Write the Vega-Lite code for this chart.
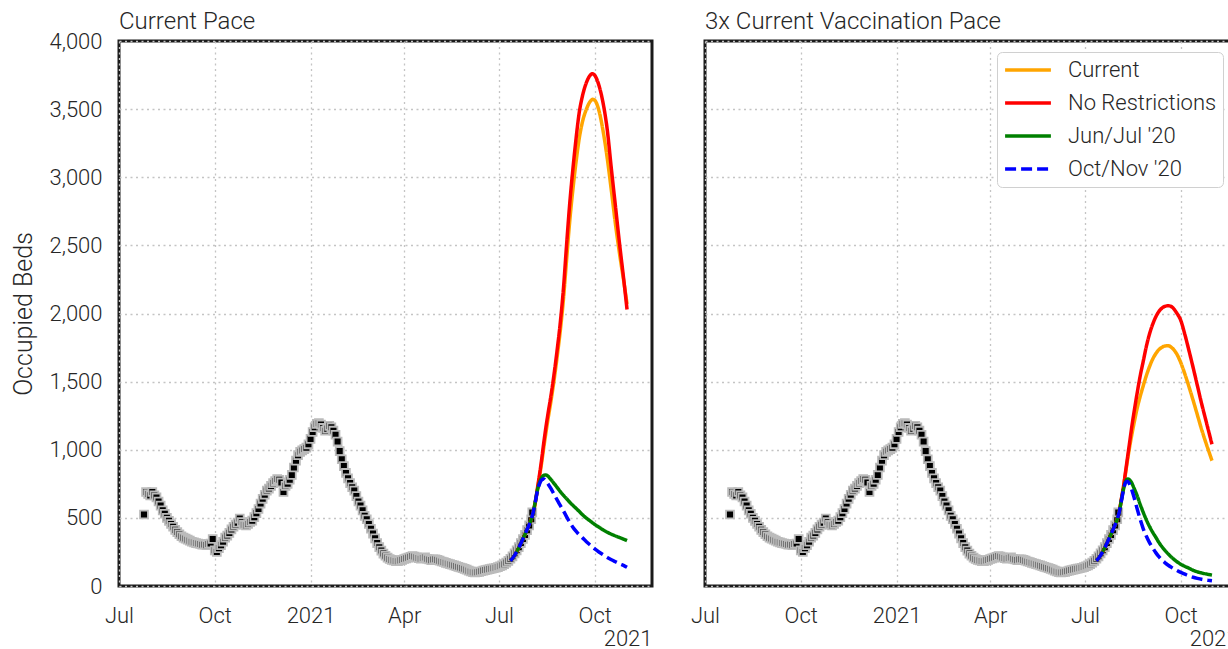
{
  "$schema": "https://vega.github.io/schema/vega-lite/v6.json",
  "background": "white",
  "padding": {"left": 10, "top": 8, "right": -10, "bottom": -3},
  "config": {
    "font": "Roboto",
    "view": {"stroke": "#1a1a1a", "strokeWidth": 3},
    "axis": {
      "labelFont": "Roboto", "labelFontSize": 22, "labelFontWeight": 300, "labelColor": "#262626",
      "titleFont": "Roboto", "titleFontSize": 22, "titleFontWeight": 300, "titleColor": "#262626",
      "ticks": false, "domain": false, "grid": true,
      "gridColor": "#c4c4c4", "gridDash": [2, 3.5], "gridWidth": 1.3
    },
    "title": {"font": "Roboto", "fontSize": 24, "fontWeight": 300, "color": "#262626", "anchor": "start", "baseline": "alphabetic", "frame": "group"},
    "legend": {
      "title": null, "orient": "none", "legendX": 292, "legendY": 11,
      "symbolType": "stroke", "symbolSize": 2100, "symbolStrokeWidth": 3.5,
      "labelFont": "Roboto", "labelFontSize": 22, "labelFontWeight": 300, "labelColor": "#262626",
      "labelOffset": 15, "labelLimit": 300, "rowPadding": 9, "clipHeight": 24, "padding": 6,
      "strokeColor": "#d0d0d0", "cornerRadius": 5, "fillColor": "white"
    },
    "concat": {"spacing": 34}
  },
  "datasets": {
    "obs": [
      {"t":"2020-07-25","v":525},{"t":"2020-07-27","v":690},{"t":"2020-07-29","v":675},{"t":"2020-07-31","v":665},
      {"t":"2020-08-02","v":690},{"t":"2020-08-04","v":665},{"t":"2020-08-06","v":650},{"t":"2020-08-08","v":620},
      {"t":"2020-08-10","v":590},{"t":"2020-08-12","v":555},{"t":"2020-08-14","v":530},{"t":"2020-08-16","v":500},
      {"t":"2020-08-18","v":478},{"t":"2020-08-20","v":455},{"t":"2020-08-22","v":435},{"t":"2020-08-24","v":412},
      {"t":"2020-08-26","v":396},{"t":"2020-08-28","v":380},{"t":"2020-08-30","v":365},{"t":"2020-09-01","v":355},
      {"t":"2020-09-03","v":348},{"t":"2020-09-05","v":340},{"t":"2020-09-07","v":333},{"t":"2020-09-09","v":325},
      {"t":"2020-09-11","v":320},{"t":"2020-09-13","v":315},{"t":"2020-09-15","v":312},{"t":"2020-09-17","v":308},
      {"t":"2020-09-19","v":303},{"t":"2020-09-21","v":305},{"t":"2020-09-23","v":300},{"t":"2020-09-25","v":308},
      {"t":"2020-09-27","v":312},{"t":"2020-09-29","v":345},{"t":"2020-10-01","v":262},{"t":"2020-10-03","v":250},
      {"t":"2020-10-05","v":278},{"t":"2020-10-07","v":300},{"t":"2020-10-09","v":325},{"t":"2020-10-11","v":355},
      {"t":"2020-10-13","v":370},{"t":"2020-10-15","v":390},{"t":"2020-10-17","v":415},{"t":"2020-10-19","v":435},
      {"t":"2020-10-21","v":450},{"t":"2020-10-23","v":465},{"t":"2020-10-25","v":495},{"t":"2020-10-27","v":470},
      {"t":"2020-10-29","v":450},{"t":"2020-10-31","v":445},{"t":"2020-11-02","v":455},{"t":"2020-11-04","v":470},
      {"t":"2020-11-06","v":480},{"t":"2020-11-08","v":505},{"t":"2020-11-10","v":535},{"t":"2020-11-12","v":565},
      {"t":"2020-11-14","v":605},{"t":"2020-11-16","v":640},{"t":"2020-11-18","v":670},{"t":"2020-11-20","v":700},
      {"t":"2020-11-22","v":715},{"t":"2020-11-24","v":735},{"t":"2020-11-26","v":755},{"t":"2020-11-28","v":770},
      {"t":"2020-11-30","v":785},{"t":"2020-12-02","v":780},{"t":"2020-12-04","v":760},{"t":"2020-12-06","v":690},
      {"t":"2020-12-08","v":735},{"t":"2020-12-10","v":750},{"t":"2020-12-12","v":780},{"t":"2020-12-14","v":815},
      {"t":"2020-12-16","v":870},{"t":"2020-12-18","v":920},{"t":"2020-12-20","v":960},{"t":"2020-12-22","v":985},
      {"t":"2020-12-24","v":995},{"t":"2020-12-26","v":1005},{"t":"2020-12-28","v":1015},{"t":"2020-12-30","v":1040},
      {"t":"2021-01-01","v":1080},{"t":"2021-01-03","v":1130},{"t":"2021-01-05","v":1165},{"t":"2021-01-07","v":1190},
      {"t":"2021-01-09","v":1195},{"t":"2021-01-11","v":1185},{"t":"2021-01-13","v":1160},{"t":"2021-01-15","v":1140},
      {"t":"2021-01-17","v":1155},{"t":"2021-01-19","v":1175},{"t":"2021-01-21","v":1165},{"t":"2021-01-23","v":1140},
      {"t":"2021-01-25","v":1110},{"t":"2021-01-27","v":1060},{"t":"2021-01-29","v":990},{"t":"2021-01-31","v":930},
      {"t":"2021-02-02","v":880},{"t":"2021-02-04","v":830},{"t":"2021-02-06","v":790},{"t":"2021-02-08","v":755},
      {"t":"2021-02-10","v":725},{"t":"2021-02-12","v":700},{"t":"2021-02-14","v":660},{"t":"2021-02-16","v":620},
      {"t":"2021-02-18","v":590},{"t":"2021-02-20","v":555},{"t":"2021-02-22","v":515},{"t":"2021-02-24","v":490},
      {"t":"2021-02-26","v":455},{"t":"2021-02-28","v":420},{"t":"2021-03-02","v":385},{"t":"2021-03-04","v":350},
      {"t":"2021-03-06","v":315},{"t":"2021-03-08","v":285},{"t":"2021-03-10","v":260},{"t":"2021-03-12","v":238},
      {"t":"2021-03-14","v":222},{"t":"2021-03-16","v":208},{"t":"2021-03-18","v":198},{"t":"2021-03-20","v":192},
      {"t":"2021-03-22","v":188},{"t":"2021-03-24","v":183},{"t":"2021-03-26","v":182},{"t":"2021-03-28","v":188},
      {"t":"2021-03-30","v":192},{"t":"2021-04-01","v":198},{"t":"2021-04-03","v":203},{"t":"2021-04-05","v":208},
      {"t":"2021-04-07","v":214},{"t":"2021-04-09","v":220},{"t":"2021-04-11","v":216},{"t":"2021-04-13","v":210},
      {"t":"2021-04-15","v":205},{"t":"2021-04-17","v":200},{"t":"2021-04-19","v":205},{"t":"2021-04-21","v":210},
      {"t":"2021-04-23","v":200},{"t":"2021-04-25","v":195},{"t":"2021-04-27","v":190},{"t":"2021-04-29","v":195},
      {"t":"2021-05-01","v":196},{"t":"2021-05-03","v":192},{"t":"2021-05-05","v":186},{"t":"2021-05-07","v":180},
      {"t":"2021-05-09","v":176},{"t":"2021-05-11","v":170},{"t":"2021-05-13","v":165},{"t":"2021-05-15","v":160},
      {"t":"2021-05-17","v":156},{"t":"2021-05-19","v":151},{"t":"2021-05-21","v":146},{"t":"2021-05-23","v":141},
      {"t":"2021-05-25","v":136},{"t":"2021-05-27","v":131},{"t":"2021-05-29","v":126},{"t":"2021-05-31","v":120},
      {"t":"2021-06-02","v":113},{"t":"2021-06-04","v":107},{"t":"2021-06-06","v":101},{"t":"2021-06-08","v":99},
      {"t":"2021-06-10","v":101},{"t":"2021-06-12","v":104},{"t":"2021-06-14","v":108},{"t":"2021-06-16","v":113},
      {"t":"2021-06-18","v":117},{"t":"2021-06-20","v":120},{"t":"2021-06-22","v":124},{"t":"2021-06-24","v":127},
      {"t":"2021-06-26","v":130},{"t":"2021-06-28","v":134},{"t":"2021-06-30","v":139},{"t":"2021-07-02","v":145},
      {"t":"2021-07-04","v":152},{"t":"2021-07-06","v":160},{"t":"2021-07-08","v":172},{"t":"2021-07-10","v":185},
      {"t":"2021-07-12","v":200},{"t":"2021-07-14","v":218},{"t":"2021-07-16","v":240},{"t":"2021-07-18","v":262},
      {"t":"2021-07-20","v":285},{"t":"2021-07-22","v":315},{"t":"2021-07-24","v":345},{"t":"2021-07-26","v":375},
      {"t":"2021-07-28","v":410},{"t":"2021-07-30","v":445},{"t":"2021-08-01","v":490},{"t":"2021-08-02","v":540}
    ],
    "lines": [
      {"p":"L","s":"Current","t":"2021-07-12","v":185},{"p":"L","s":"Current","t":"2021-07-16","v":225},{"p":"L","s":"Current","t":"2021-07-20","v":280},{"p":"L","s":"Current","t":"2021-07-24","v":345},{"p":"L","s":"Current","t":"2021-07-28","v":415},{"p":"L","s":"Current","t":"2021-08-01","v":490},{"p":"L","s":"Current","t":"2021-08-03","v":545},
      {"p":"L","s":"Current","t":"2021-08-05","v":615},{"p":"L","s":"Current","t":"2021-08-07","v":710},{"p":"L","s":"Current","t":"2021-08-09","v":805},{"p":"L","s":"Current","t":"2021-08-11","v":905},{"p":"L","s":"Current","t":"2021-08-13","v":1015},{"p":"L","s":"Current","t":"2021-08-15","v":1120},{"p":"L","s":"Current","t":"2021-08-17","v":1220},{"p":"L","s":"Current","t":"2021-08-20","v":1360},{"p":"L","s":"Current","t":"2021-08-23","v":1515},{"p":"L","s":"Current","t":"2021-08-26","v":1690},{"p":"L","s":"Current","t":"2021-08-29","v":1880},{"p":"L","s":"Current","t":"2021-09-01","v":2110},{"p":"L","s":"Current","t":"2021-09-04","v":2400},{"p":"L","s":"Current","t":"2021-09-07","v":2680},{"p":"L","s":"Current","t":"2021-09-10","v":2910},{"p":"L","s":"Current","t":"2021-09-13","v":3110},{"p":"L","s":"Current","t":"2021-09-16","v":3280},{"p":"L","s":"Current","t":"2021-09-19","v":3400},{"p":"L","s":"Current","t":"2021-09-23","v":3500},{"p":"L","s":"Current","t":"2021-09-27","v":3560},{"p":"L","s":"Current","t":"2021-09-29","v":3572},{"p":"L","s":"Current","t":"2021-10-01","v":3565},{"p":"L","s":"Current","t":"2021-10-05","v":3490},{"p":"L","s":"Current","t":"2021-10-09","v":3340},{"p":"L","s":"Current","t":"2021-10-13","v":3140},{"p":"L","s":"Current","t":"2021-10-17","v":2900},{"p":"L","s":"Current","t":"2021-10-21","v":2650},{"p":"L","s":"Current","t":"2021-10-25","v":2430},{"p":"L","s":"Current","t":"2021-10-29","v":2230},{"p":"L","s":"Current","t":"2021-11-01","v":2070},

      {"p":"L","s":"No Restrictions","t":"2021-07-12","v":185},{"p":"L","s":"No Restrictions","t":"2021-07-16","v":225},{"p":"L","s":"No Restrictions","t":"2021-07-20","v":280},{"p":"L","s":"No Restrictions","t":"2021-07-24","v":345},{"p":"L","s":"No Restrictions","t":"2021-07-28","v":415},{"p":"L","s":"No Restrictions","t":"2021-08-01","v":490},{"p":"L","s":"No Restrictions","t":"2021-08-03","v":545},
      {"p":"L","s":"No Restrictions","t":"2021-08-05","v":620},{"p":"L","s":"No Restrictions","t":"2021-08-07","v":720},{"p":"L","s":"No Restrictions","t":"2021-08-09","v":820},{"p":"L","s":"No Restrictions","t":"2021-08-11","v":930},{"p":"L","s":"No Restrictions","t":"2021-08-13","v":1050},{"p":"L","s":"No Restrictions","t":"2021-08-15","v":1160},{"p":"L","s":"No Restrictions","t":"2021-08-17","v":1260},{"p":"L","s":"No Restrictions","t":"2021-08-20","v":1400},{"p":"L","s":"No Restrictions","t":"2021-08-23","v":1560},{"p":"L","s":"No Restrictions","t":"2021-08-26","v":1740},{"p":"L","s":"No Restrictions","t":"2021-08-29","v":1940},{"p":"L","s":"No Restrictions","t":"2021-09-01","v":2190},{"p":"L","s":"No Restrictions","t":"2021-09-04","v":2510},{"p":"L","s":"No Restrictions","t":"2021-09-07","v":2810},{"p":"L","s":"No Restrictions","t":"2021-09-10","v":3060},{"p":"L","s":"No Restrictions","t":"2021-09-13","v":3280},{"p":"L","s":"No Restrictions","t":"2021-09-16","v":3470},{"p":"L","s":"No Restrictions","t":"2021-09-19","v":3590},{"p":"L","s":"No Restrictions","t":"2021-09-23","v":3695},{"p":"L","s":"No Restrictions","t":"2021-09-27","v":3752},{"p":"L","s":"No Restrictions","t":"2021-09-29","v":3760},{"p":"L","s":"No Restrictions","t":"2021-10-01","v":3748},{"p":"L","s":"No Restrictions","t":"2021-10-05","v":3675},{"p":"L","s":"No Restrictions","t":"2021-10-09","v":3545},{"p":"L","s":"No Restrictions","t":"2021-10-13","v":3350},{"p":"L","s":"No Restrictions","t":"2021-10-17","v":3060},{"p":"L","s":"No Restrictions","t":"2021-10-21","v":2780},{"p":"L","s":"No Restrictions","t":"2021-10-25","v":2500},{"p":"L","s":"No Restrictions","t":"2021-10-29","v":2240},{"p":"L","s":"No Restrictions","t":"2021-11-01","v":2030},

      {"p":"L","s":"Jun/Jul '20","t":"2021-07-12","v":185},{"p":"L","s":"Jun/Jul '20","t":"2021-07-16","v":225},{"p":"L","s":"Jun/Jul '20","t":"2021-07-20","v":280},{"p":"L","s":"Jun/Jul '20","t":"2021-07-24","v":345},{"p":"L","s":"Jun/Jul '20","t":"2021-07-28","v":415},{"p":"L","s":"Jun/Jul '20","t":"2021-08-01","v":490},{"p":"L","s":"Jun/Jul '20","t":"2021-08-03","v":545},
      {"p":"L","s":"Jun/Jul '20","t":"2021-08-05","v":625},{"p":"L","s":"Jun/Jul '20","t":"2021-08-07","v":705},{"p":"L","s":"Jun/Jul '20","t":"2021-08-09","v":760},{"p":"L","s":"Jun/Jul '20","t":"2021-08-11","v":795},{"p":"L","s":"Jun/Jul '20","t":"2021-08-13","v":812},{"p":"L","s":"Jun/Jul '20","t":"2021-08-15","v":815},{"p":"L","s":"Jun/Jul '20","t":"2021-08-17","v":806},{"p":"L","s":"Jun/Jul '20","t":"2021-08-20","v":780},{"p":"L","s":"Jun/Jul '20","t":"2021-08-23","v":752},{"p":"L","s":"Jun/Jul '20","t":"2021-08-26","v":722},{"p":"L","s":"Jun/Jul '20","t":"2021-08-29","v":692},{"p":"L","s":"Jun/Jul '20","t":"2021-09-01","v":665},{"p":"L","s":"Jun/Jul '20","t":"2021-09-04","v":640},{"p":"L","s":"Jun/Jul '20","t":"2021-09-07","v":615},{"p":"L","s":"Jun/Jul '20","t":"2021-09-10","v":592},{"p":"L","s":"Jun/Jul '20","t":"2021-09-13","v":570},{"p":"L","s":"Jun/Jul '20","t":"2021-09-16","v":548},{"p":"L","s":"Jun/Jul '20","t":"2021-09-19","v":525},{"p":"L","s":"Jun/Jul '20","t":"2021-09-23","v":498},{"p":"L","s":"Jun/Jul '20","t":"2021-09-27","v":475},{"p":"L","s":"Jun/Jul '20","t":"2021-10-01","v":452},{"p":"L","s":"Jun/Jul '20","t":"2021-10-05","v":432},{"p":"L","s":"Jun/Jul '20","t":"2021-10-09","v":412},{"p":"L","s":"Jun/Jul '20","t":"2021-10-13","v":395},{"p":"L","s":"Jun/Jul '20","t":"2021-10-17","v":380},{"p":"L","s":"Jun/Jul '20","t":"2021-10-21","v":367},{"p":"L","s":"Jun/Jul '20","t":"2021-10-25","v":355},{"p":"L","s":"Jun/Jul '20","t":"2021-10-29","v":343},{"p":"L","s":"Jun/Jul '20","t":"2021-11-01","v":333},

      {"p":"L","s":"Oct/Nov '20","t":"2021-07-12","v":185},{"p":"L","s":"Oct/Nov '20","t":"2021-07-16","v":225},{"p":"L","s":"Oct/Nov '20","t":"2021-07-20","v":280},{"p":"L","s":"Oct/Nov '20","t":"2021-07-24","v":345},{"p":"L","s":"Oct/Nov '20","t":"2021-07-28","v":415},{"p":"L","s":"Oct/Nov '20","t":"2021-08-01","v":490},{"p":"L","s":"Oct/Nov '20","t":"2021-08-03","v":545},
      {"p":"L","s":"Oct/Nov '20","t":"2021-08-05","v":620},{"p":"L","s":"Oct/Nov '20","t":"2021-08-07","v":700},{"p":"L","s":"Oct/Nov '20","t":"2021-08-09","v":750},{"p":"L","s":"Oct/Nov '20","t":"2021-08-11","v":778},{"p":"L","s":"Oct/Nov '20","t":"2021-08-13","v":785},{"p":"L","s":"Oct/Nov '20","t":"2021-08-15","v":772},{"p":"L","s":"Oct/Nov '20","t":"2021-08-17","v":750},{"p":"L","s":"Oct/Nov '20","t":"2021-08-20","v":715},{"p":"L","s":"Oct/Nov '20","t":"2021-08-23","v":672},{"p":"L","s":"Oct/Nov '20","t":"2021-08-26","v":630},{"p":"L","s":"Oct/Nov '20","t":"2021-08-29","v":590},{"p":"L","s":"Oct/Nov '20","t":"2021-09-01","v":550},{"p":"L","s":"Oct/Nov '20","t":"2021-09-04","v":508},{"p":"L","s":"Oct/Nov '20","t":"2021-09-07","v":468},{"p":"L","s":"Oct/Nov '20","t":"2021-09-10","v":432},{"p":"L","s":"Oct/Nov '20","t":"2021-09-13","v":402},{"p":"L","s":"Oct/Nov '20","t":"2021-09-16","v":376},{"p":"L","s":"Oct/Nov '20","t":"2021-09-19","v":355},{"p":"L","s":"Oct/Nov '20","t":"2021-09-23","v":325},{"p":"L","s":"Oct/Nov '20","t":"2021-09-27","v":298},{"p":"L","s":"Oct/Nov '20","t":"2021-10-01","v":272},{"p":"L","s":"Oct/Nov '20","t":"2021-10-05","v":250},{"p":"L","s":"Oct/Nov '20","t":"2021-10-09","v":230},{"p":"L","s":"Oct/Nov '20","t":"2021-10-13","v":210},{"p":"L","s":"Oct/Nov '20","t":"2021-10-17","v":193},{"p":"L","s":"Oct/Nov '20","t":"2021-10-21","v":178},{"p":"L","s":"Oct/Nov '20","t":"2021-10-25","v":163},{"p":"L","s":"Oct/Nov '20","t":"2021-10-29","v":150},{"p":"L","s":"Oct/Nov '20","t":"2021-11-01","v":138},

      {"p":"R","s":"Current","t":"2021-07-12","v":185},{"p":"R","s":"Current","t":"2021-07-16","v":225},{"p":"R","s":"Current","t":"2021-07-20","v":280},{"p":"R","s":"Current","t":"2021-07-24","v":345},{"p":"R","s":"Current","t":"2021-07-28","v":415},{"p":"R","s":"Current","t":"2021-08-01","v":490},{"p":"R","s":"Current","t":"2021-08-03","v":545},
      {"p":"R","s":"Current","t":"2021-08-05","v":635},{"p":"R","s":"Current","t":"2021-08-07","v":725},{"p":"R","s":"Current","t":"2021-08-09","v":830},{"p":"R","s":"Current","t":"2021-08-11","v":930},{"p":"R","s":"Current","t":"2021-08-13","v":1025},{"p":"R","s":"Current","t":"2021-08-15","v":1110},{"p":"R","s":"Current","t":"2021-08-17","v":1190},{"p":"R","s":"Current","t":"2021-08-20","v":1300},{"p":"R","s":"Current","t":"2021-08-23","v":1390},{"p":"R","s":"Current","t":"2021-08-26","v":1470},{"p":"R","s":"Current","t":"2021-08-29","v":1545},{"p":"R","s":"Current","t":"2021-09-01","v":1610},{"p":"R","s":"Current","t":"2021-09-04","v":1665},{"p":"R","s":"Current","t":"2021-09-07","v":1705},{"p":"R","s":"Current","t":"2021-09-10","v":1735},{"p":"R","s":"Current","t":"2021-09-13","v":1752},{"p":"R","s":"Current","t":"2021-09-16","v":1762},{"p":"R","s":"Current","t":"2021-09-19","v":1763},{"p":"R","s":"Current","t":"2021-09-23","v":1745},{"p":"R","s":"Current","t":"2021-09-27","v":1705},{"p":"R","s":"Current","t":"2021-10-01","v":1640},{"p":"R","s":"Current","t":"2021-10-05","v":1555},{"p":"R","s":"Current","t":"2021-10-09","v":1460},{"p":"R","s":"Current","t":"2021-10-13","v":1360},{"p":"R","s":"Current","t":"2021-10-17","v":1255},{"p":"R","s":"Current","t":"2021-10-21","v":1150},{"p":"R","s":"Current","t":"2021-10-25","v":1055},{"p":"R","s":"Current","t":"2021-10-29","v":965},{"p":"R","s":"Current","t":"2021-10-31","v":920},

      {"p":"R","s":"No Restrictions","t":"2021-07-12","v":185},{"p":"R","s":"No Restrictions","t":"2021-07-16","v":225},{"p":"R","s":"No Restrictions","t":"2021-07-20","v":280},{"p":"R","s":"No Restrictions","t":"2021-07-24","v":345},{"p":"R","s":"No Restrictions","t":"2021-07-28","v":415},{"p":"R","s":"No Restrictions","t":"2021-08-01","v":490},{"p":"R","s":"No Restrictions","t":"2021-08-03","v":545},
      {"p":"R","s":"No Restrictions","t":"2021-08-05","v":640},{"p":"R","s":"No Restrictions","t":"2021-08-07","v":730},{"p":"R","s":"No Restrictions","t":"2021-08-09","v":840},{"p":"R","s":"No Restrictions","t":"2021-08-11","v":950},{"p":"R","s":"No Restrictions","t":"2021-08-13","v":1060},{"p":"R","s":"No Restrictions","t":"2021-08-15","v":1170},{"p":"R","s":"No Restrictions","t":"2021-08-17","v":1270},{"p":"R","s":"No Restrictions","t":"2021-08-20","v":1410},{"p":"R","s":"No Restrictions","t":"2021-08-23","v":1540},{"p":"R","s":"No Restrictions","t":"2021-08-26","v":1650},{"p":"R","s":"No Restrictions","t":"2021-08-29","v":1760},{"p":"R","s":"No Restrictions","t":"2021-09-01","v":1850},{"p":"R","s":"No Restrictions","t":"2021-09-04","v":1920},{"p":"R","s":"No Restrictions","t":"2021-09-07","v":1975},{"p":"R","s":"No Restrictions","t":"2021-09-10","v":2015},{"p":"R","s":"No Restrictions","t":"2021-09-13","v":2040},{"p":"R","s":"No Restrictions","t":"2021-09-16","v":2053},{"p":"R","s":"No Restrictions","t":"2021-09-19","v":2057},{"p":"R","s":"No Restrictions","t":"2021-09-23","v":2045},{"p":"R","s":"No Restrictions","t":"2021-09-27","v":2005},{"p":"R","s":"No Restrictions","t":"2021-10-01","v":1950},{"p":"R","s":"No Restrictions","t":"2021-10-05","v":1845},{"p":"R","s":"No Restrictions","t":"2021-10-09","v":1725},{"p":"R","s":"No Restrictions","t":"2021-10-13","v":1600},{"p":"R","s":"No Restrictions","t":"2021-10-17","v":1470},{"p":"R","s":"No Restrictions","t":"2021-10-21","v":1340},{"p":"R","s":"No Restrictions","t":"2021-10-25","v":1220},{"p":"R","s":"No Restrictions","t":"2021-10-29","v":1100},{"p":"R","s":"No Restrictions","t":"2021-10-31","v":1040},

      {"p":"R","s":"Jun/Jul '20","t":"2021-07-12","v":185},{"p":"R","s":"Jun/Jul '20","t":"2021-07-16","v":225},{"p":"R","s":"Jun/Jul '20","t":"2021-07-20","v":280},{"p":"R","s":"Jun/Jul '20","t":"2021-07-24","v":345},{"p":"R","s":"Jun/Jul '20","t":"2021-07-28","v":415},{"p":"R","s":"Jun/Jul '20","t":"2021-08-01","v":490},{"p":"R","s":"Jun/Jul '20","t":"2021-08-03","v":545},
      {"p":"R","s":"Jun/Jul '20","t":"2021-08-05","v":630},{"p":"R","s":"Jun/Jul '20","t":"2021-08-07","v":710},{"p":"R","s":"Jun/Jul '20","t":"2021-08-09","v":765},{"p":"R","s":"Jun/Jul '20","t":"2021-08-11","v":785},{"p":"R","s":"Jun/Jul '20","t":"2021-08-13","v":778},{"p":"R","s":"Jun/Jul '20","t":"2021-08-15","v":755},{"p":"R","s":"Jun/Jul '20","t":"2021-08-17","v":720},{"p":"R","s":"Jun/Jul '20","t":"2021-08-20","v":665},{"p":"R","s":"Jun/Jul '20","t":"2021-08-23","v":600},{"p":"R","s":"Jun/Jul '20","t":"2021-08-26","v":540},{"p":"R","s":"Jun/Jul '20","t":"2021-08-29","v":485},{"p":"R","s":"Jun/Jul '20","t":"2021-09-01","v":437},{"p":"R","s":"Jun/Jul '20","t":"2021-09-04","v":395},{"p":"R","s":"Jun/Jul '20","t":"2021-09-07","v":358},{"p":"R","s":"Jun/Jul '20","t":"2021-09-10","v":320},{"p":"R","s":"Jun/Jul '20","t":"2021-09-13","v":288},{"p":"R","s":"Jun/Jul '20","t":"2021-09-16","v":260},{"p":"R","s":"Jun/Jul '20","t":"2021-09-19","v":235},{"p":"R","s":"Jun/Jul '20","t":"2021-09-23","v":205},{"p":"R","s":"Jun/Jul '20","t":"2021-09-27","v":180},{"p":"R","s":"Jun/Jul '20","t":"2021-10-01","v":160},{"p":"R","s":"Jun/Jul '20","t":"2021-10-05","v":144},{"p":"R","s":"Jun/Jul '20","t":"2021-10-09","v":130},{"p":"R","s":"Jun/Jul '20","t":"2021-10-13","v":115},{"p":"R","s":"Jun/Jul '20","t":"2021-10-17","v":104},{"p":"R","s":"Jun/Jul '20","t":"2021-10-21","v":96},{"p":"R","s":"Jun/Jul '20","t":"2021-10-25","v":89},{"p":"R","s":"Jun/Jul '20","t":"2021-10-29","v":83},{"p":"R","s":"Jun/Jul '20","t":"2021-10-31","v":80},

      {"p":"R","s":"Oct/Nov '20","t":"2021-07-12","v":185},{"p":"R","s":"Oct/Nov '20","t":"2021-07-16","v":225},{"p":"R","s":"Oct/Nov '20","t":"2021-07-20","v":280},{"p":"R","s":"Oct/Nov '20","t":"2021-07-24","v":345},{"p":"R","s":"Oct/Nov '20","t":"2021-07-28","v":415},{"p":"R","s":"Oct/Nov '20","t":"2021-08-01","v":490},{"p":"R","s":"Oct/Nov '20","t":"2021-08-03","v":545},
      {"p":"R","s":"Oct/Nov '20","t":"2021-08-05","v":625},{"p":"R","s":"Oct/Nov '20","t":"2021-08-07","v":705},{"p":"R","s":"Oct/Nov '20","t":"2021-08-09","v":760},{"p":"R","s":"Oct/Nov '20","t":"2021-08-11","v":768},{"p":"R","s":"Oct/Nov '20","t":"2021-08-13","v":745},{"p":"R","s":"Oct/Nov '20","t":"2021-08-15","v":705},{"p":"R","s":"Oct/Nov '20","t":"2021-08-17","v":655},{"p":"R","s":"Oct/Nov '20","t":"2021-08-20","v":570},{"p":"R","s":"Oct/Nov '20","t":"2021-08-23","v":490},{"p":"R","s":"Oct/Nov '20","t":"2021-08-26","v":420},{"p":"R","s":"Oct/Nov '20","t":"2021-08-29","v":365},{"p":"R","s":"Oct/Nov '20","t":"2021-09-01","v":318},{"p":"R","s":"Oct/Nov '20","t":"2021-09-04","v":280},{"p":"R","s":"Oct/Nov '20","t":"2021-09-07","v":245},{"p":"R","s":"Oct/Nov '20","t":"2021-09-10","v":215},{"p":"R","s":"Oct/Nov '20","t":"2021-09-13","v":190},{"p":"R","s":"Oct/Nov '20","t":"2021-09-16","v":170},{"p":"R","s":"Oct/Nov '20","t":"2021-09-19","v":152},{"p":"R","s":"Oct/Nov '20","t":"2021-09-23","v":133},{"p":"R","s":"Oct/Nov '20","t":"2021-09-27","v":115},{"p":"R","s":"Oct/Nov '20","t":"2021-10-01","v":100},{"p":"R","s":"Oct/Nov '20","t":"2021-10-05","v":87},{"p":"R","s":"Oct/Nov '20","t":"2021-10-09","v":74},{"p":"R","s":"Oct/Nov '20","t":"2021-10-13","v":64},{"p":"R","s":"Oct/Nov '20","t":"2021-10-17","v":56},{"p":"R","s":"Oct/Nov '20","t":"2021-10-21","v":49},{"p":"R","s":"Oct/Nov '20","t":"2021-10-25","v":44},{"p":"R","s":"Oct/Nov '20","t":"2021-10-29","v":40},{"p":"R","s":"Oct/Nov '20","t":"2021-10-31","v":38}
    ]
  },
  "resolve": {
    "scale": {"x": "independent", "y": "independent", "color": "independent", "strokeDash": "independent"},
    "legend": {"color": "independent", "strokeDash": "independent"}
  },
  "hconcat": [
    {
      "width": 533, "height": 545,
      "title": {"text": "Current Pace", "offset": -4},
      "layer": [
        {
          "data": {"name": "obs"},
          "mark": {"type": "square", "size": 62, "filled": true, "fill": "black", "stroke": "#bbbbbb", "strokeWidth": 1.8, "opacity": 1},
          "encoding": {
            "x": {"field": "t", "type": "temporal",
              "scale": {"type": "utc", "domain": [{"year": 2020, "month": 7, "date": 1, "utc": true}, {"year": 2021, "month": 11, "date": 25, "utc": true}]},
              "axis": {"values": [{"year": 2020, "month": 7, "date": 1, "utc": true}, {"year": 2020, "month": 10, "date": 1, "utc": true}, {"year": 2021, "month": 1, "date": 1, "utc": true}, {"year": 2021, "month": 4, "date": 1, "utc": true}, {"year": 2021, "month": 7, "date": 1, "utc": true}, {"year": 2021, "month": 10, "date": 1, "utc": true}],
                "labelExpr": "utcFormat(datum.value, '%m') == '01' ? utcFormat(datum.value, '%Y') : utcFormat(datum.value, '%b')",
                "labelFlush": false, "labelOverlap": false, "labelPadding": 19,
                "title": "2021", "titleAnchor": "end", "titlePadding": 2}},
            "y": {"field": "v", "type": "quantitative",
              "scale": {"domain": [0, 4000], "nice": false},
              "axis": {"values": [0, 500, 1000, 1500, 2000, 2500, 3000, 3500, 4000], "format": ",.0f", "title": "Occupied Beds", "titleFontSize": 25, "labelPadding": 17, "titlePadding": 12}}
          }
        },
        {
          "data": {"name": "lines"},
          "transform": [{"filter": "datum.p == 'L'"}],
          "mark": {"type": "line", "strokeWidth": 3.5, "interpolate": "monotone"},
          "encoding": {
            "x": {"field": "t", "type": "temporal"},
            "y": {"field": "v", "type": "quantitative"},
            "color": {"field": "s", "type": "nominal", "sort": null,
              "scale": {"domain": ["Current", "No Restrictions", "Jun/Jul '20", "Oct/Nov '20"], "range": ["#ffa500", "#ff0000", "#008000", "#0000ff"]},
              "legend": null},
            "strokeDash": {"field": "s", "type": "nominal", "sort": null,
              "scale": {"domain": ["Current", "No Restrictions", "Jun/Jul '20", "Oct/Nov '20"], "range": [[1, 0], [1, 0], [1, 0], [11, 5]]},
              "legend": null}
          }
        }
      ]
    },
    {
      "width": 533, "height": 545,
      "title": {"text": "3x Current Vaccination Pace", "offset": 7},
      "layer": [
        {
          "data": {"name": "obs"},
          "mark": {"type": "square", "size": 62, "filled": true, "fill": "black", "stroke": "#bbbbbb", "strokeWidth": 1.8, "opacity": 1},
          "encoding": {
            "x": {"field": "t", "type": "temporal",
              "scale": {"type": "utc", "domain": [{"year": 2020, "month": 7, "date": 1, "utc": true}, {"year": 2021, "month": 11, "date": 25, "utc": true}]},
              "axis": {"values": [{"year": 2020, "month": 7, "date": 1, "utc": true}, {"year": 2020, "month": 10, "date": 1, "utc": true}, {"year": 2021, "month": 1, "date": 1, "utc": true}, {"year": 2021, "month": 4, "date": 1, "utc": true}, {"year": 2021, "month": 7, "date": 1, "utc": true}, {"year": 2021, "month": 10, "date": 1, "utc": true}],
                "labelExpr": "utcFormat(datum.value, '%m') == '01' ? utcFormat(datum.value, '%Y') : utcFormat(datum.value, '%b')",
                "labelFlush": false, "labelOverlap": false, "labelPadding": 19,
                "title": "2021", "titleAnchor": "end", "titlePadding": 2}},
            "y": {"field": "v", "type": "quantitative",
              "scale": {"domain": [0, 4000], "nice": false},
              "axis": {"values": [0, 500, 1000, 1500, 2000, 2500, 3000, 3500, 4000], "labels": false, "title": null, "minExtent": 0, "maxExtent": 0}}
          }
        },
        {
          "data": {"name": "lines"},
          "transform": [{"filter": "datum.p == 'R'"}],
          "mark": {"type": "line", "strokeWidth": 3.5, "interpolate": "monotone"},
          "encoding": {
            "x": {"field": "t", "type": "temporal"},
            "y": {"field": "v", "type": "quantitative"},
            "color": {"field": "s", "type": "nominal", "sort": null,
              "scale": {"domain": ["Current", "No Restrictions", "Jun/Jul '20", "Oct/Nov '20"], "range": ["#ffa500", "#ff0000", "#008000", "#0000ff"]},
              "legend": {}},
            "strokeDash": {"field": "s", "type": "nominal", "sort": null,
              "scale": {"domain": ["Current", "No Restrictions", "Jun/Jul '20", "Oct/Nov '20"], "range": [[1, 0], [1, 0], [1, 0], [11, 5]]},
              "legend": {}}
          }
        }
      ]
    }
  ]
}
